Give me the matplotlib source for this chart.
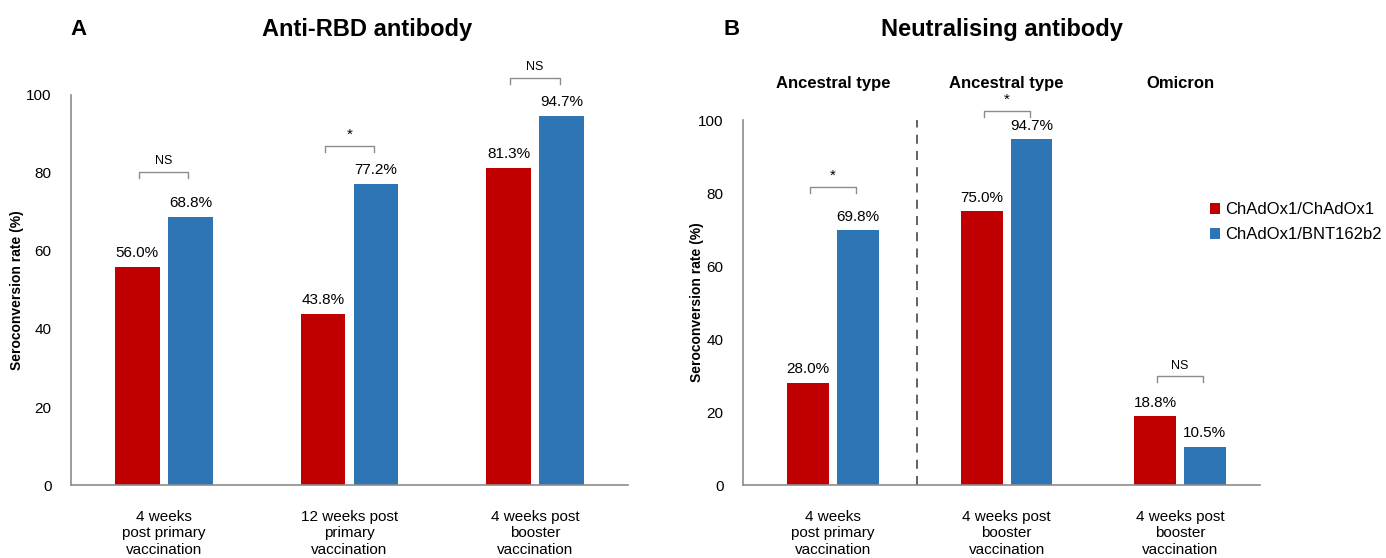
import matplotlib.pyplot as plt
import numpy as np

plt.rcParams['font.family'] = ['Liberation Sans', 'DejaVu Sans']

RED = '#C00000'
BLUE = '#2E75B6'
GREY = '#8c8c8c'

# Panel A: anti-RBD antibody
a_groups = ['4 weeks\npost primary\nvaccination',
            '12 weeks post\nprimary\nvaccination',
            '4 weeks post\nbooster\nvaccination']
a_chad = [56.0, 43.8, 81.3]
a_bnt = [68.8, 77.2, 94.7]
a_sig = ['NS', '*', 'NS']
a_sig_y = [80.3, 86.9, 104.4]

# Panel B: neutralising antibody
b_groups = ['4 weeks\npost primary\nvaccination',
            '4 weeks post\nbooster\nvaccination',
            '4 weeks post\nbooster\nvaccination']
b_headers = ['Ancestral type', 'Ancestral type', 'Omicron']
b_chad = [28.0, 75.0, 18.8]
b_bnt = [69.8, 94.7, 10.5]
b_sig = ['*', '*', 'NS']
b_sig_y = [81.6, 102.5, 29.9]

W = 0.24
OFF = 0.143
BR = 0.133

fig = plt.figure(figsize=(13.86, 5.58), dpi=100)
axA = fig.add_axes([0.0512, 0.1308, 0.4019, 0.699])
axB = fig.add_axes([0.536, 0.1308, 0.373, 0.654])


def style(ax):
    ax.set_ylim(0, 100)
    ax.set_yticks(range(0, 101, 20))
    for s in ['top', 'right']:
        ax.spines[s].set_visible(False)
    for s in ['left', 'bottom']:
        ax.spines[s].set_color(GREY)
        ax.spines[s].set_linewidth(1.2)
    ax.tick_params(axis='y', length=0, labelsize=11, pad=14)
    ax.tick_params(axis='x', length=0, labelsize=11, pad=18)
    ax.set_ylabel('Seroconversion rate (%)', fontsize=10, fontweight='bold')


def bracket(ax, x, y, txt):
    xs = [x - BR, x - BR, x + BR, x + BR]
    ys = [y - 1.6, y, y, y - 1.6]
    ax.plot(xs, ys, color=GREY, lw=1, clip_on=False)
    ax.text(x, y + 1.2, txt, ha='center', va='bottom', fontsize=9 if txt == 'NS' else 11,
            clip_on=False)


def bars(ax, pos, v1, v2, lab_pad):
    pos = np.array(pos)
    ax.bar(pos - OFF, v1, W, color=RED, label='ChAdOx1/ChAdOx1')
    ax.bar(pos + OFF, v2, W, color=BLUE, label='ChAdOx1/BNT162b2')
    for p, a, b in zip(pos, v1, v2):
        ax.text(p - OFF, a + lab_pad, f'{a:.1f}%', ha='center', va='bottom', fontsize=11)
        ax.text(p + OFF, b + lab_pad, f'{b:.1f}%', ha='center', va='bottom', fontsize=11)


# Panel A
bars(axA, np.arange(3), a_chad, a_bnt, 1.8)
style(axA)
axA.set_xlim(-0.5, 2.5)
axA.set_xticks(np.arange(3))
axA.set_xticklabels(a_groups, linespacing=1.22)
for i, (s, y) in enumerate(zip(a_sig, a_sig_y)):
    bracket(axA, i, y, s)
axA.yaxis.set_label_coords(-0.084, 0.5)

# Panel B
xb = np.arange(3)
bars(axB, xb, b_chad, b_bnt, 1.8)
style(axB)
axB.set_xlim(-0.52, 2.46)
axB.set_xticks(xb)
axB.set_xticklabels(b_groups, linespacing=1.22)
for x, s, y in zip(xb, b_sig, b_sig_y):
    bracket(axB, x, y, s)
for x, h in zip(xb, b_headers):
    axB.text(x, 110, h, ha='center', va='center', fontsize=12, fontweight='bold',
             clip_on=False)
axB.axvline(0.484, color='#555555', lw=1.3, ls=(0, (5, 4)))
axB.yaxis.set_label_coords(-0.075, 0.5)
axB.legend(loc='center left', bbox_to_anchor=(0.875, 0.72), frameon=False, fontsize=12,
           handlelength=0.6, handleheight=0.6, handletextpad=0.3, labelspacing=0.6)

# titles
fig.text(0.051, 0.947, 'A', fontsize=16, fontweight='bold', va='center')
fig.text(0.265, 0.948, 'Anti-RBD antibody', fontsize=17, fontweight='bold',
         ha='center', va='center')
fig.text(0.522, 0.947, 'B', fontsize=16, fontweight='bold', va='center')
fig.text(0.723, 0.947, 'Neutralising antibody', fontsize=17, fontweight='bold',
         ha='center', va='center')

fig.savefig('out.png', dpi=100)
